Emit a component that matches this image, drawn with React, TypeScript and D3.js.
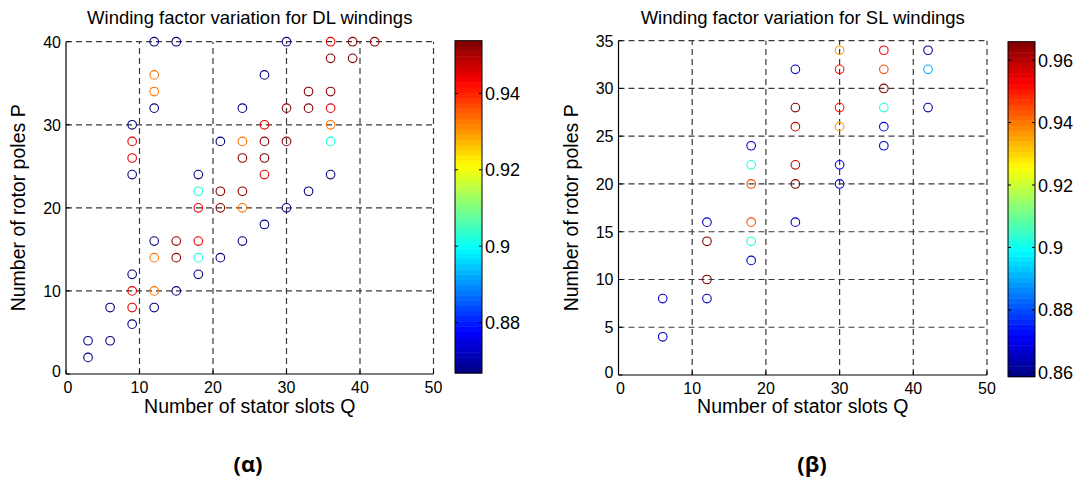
import React from "react";
import * as d3 from "d3";

// ---- DL windings (left) ----
const dlQ = [3, 3, 6, 6, 9, 9, 12, 12, 15, 18, 21, 24, 27, 30, 33, 36, 9, 9, 18, 21, 24, 12, 27, 12, 15, 30,
  9, 9, 18, 18, 9, 9, 27, 27, 36, 36,
  12, 12, 24, 24, 36, 12, 12,
  18, 18, 36,
  15, 15, 21, 21, 24, 24, 27, 27, 30, 30, 33, 33, 36, 36, 39, 39, 42];
const dlP = [2, 4, 4, 8, 6, 12, 8, 16, 10, 12, 14, 16, 18, 20, 22, 24, 24, 30, 24, 28, 32, 32, 36, 40, 40, 40,
  8, 10, 16, 20, 26, 28, 24, 30, 32, 40,
  10, 14, 20, 28, 30, 34, 36,
  14, 22, 28,
  14, 16, 20, 22, 22, 26, 26, 28, 28, 32, 32, 34, 34, 38, 38, 40, 40];
const dlKw = [0.866, 0.866, 0.866, 0.866, 0.866, 0.866, 0.866, 0.866, 0.866, 0.866, 0.866, 0.866, 0.866, 0.866, 0.866, 0.866, 0.866, 0.866, 0.866, 0.866, 0.866, 0.866, 0.866, 0.866, 0.866, 0.866,
  0.945, 0.945, 0.945, 0.945, 0.945, 0.945, 0.945, 0.945, 0.945, 0.945,
  0.933, 0.933, 0.933, 0.933, 0.933, 0.933, 0.933,
  0.902, 0.902, 0.902,
  0.952, 0.952, 0.953, 0.953, 0.952, 0.952, 0.954, 0.954, 0.952, 0.952, 0.954, 0.954, 0.953, 0.953, 0.954, 0.954, 0.953];

// ---- SL windings (right) ----
const slQ = [6, 6, 12, 12, 12, 12, 18, 18, 18, 18, 18, 18, 24, 24, 24, 24, 24, 24, 30, 30, 30, 30, 30, 30, 36, 36, 36, 36, 36, 36, 42, 42, 42];
const slP = [4, 8, 8, 10, 14, 16, 12, 14, 16, 20, 22, 24, 16, 20, 22, 26, 28, 32, 20, 22, 26, 28, 32, 34, 24, 26, 28, 30, 32, 34, 28, 32, 34];
const slKw = [0.866, 0.866, 0.866, 0.966, 0.966, 0.866, 0.866, 0.902, 0.945, 0.945, 0.902, 0.866, 0.866, 0.966, 0.958, 0.958, 0.966, 0.866, 0.866, 0.870, 0.936, 0.951, 0.951, 0.936, 0.866, 0.870, 0.902, 0.966, 0.945, 0.953, 0.861, 0.890, 0.861];

const xTicks = [0, 10, 20, 30, 40, 50];
const dlYTicks = [0, 10, 20, 30, 40];
const slYTicks = [0, 5, 10, 15, 20, 25, 30, 35];
const dlCbTicks = [0.88, 0.9, 0.92, 0.94];
const slCbTicks = [0.86, 0.88, 0.9, 0.92, 0.94, 0.96];
const dlCbDomain = [0.8668, 0.9538];
const slCbDomain = [0.8586, 0.9659];

const clamp01 = (v: number) => Math.max(0, Math.min(1, v));
function jet(t: number) {
  const tt = clamp01(t);
  const r = clamp01(1.5 - Math.abs(4 * tt - 3));
  const g = clamp01(1.5 - Math.abs(4 * tt - 2));
  const b = clamp01(1.5 - Math.abs(4 * tt - 1));
  return d3.rgb(r * 255, g * 255, b * 255).formatHex();
}

const FONT = "'Liberation Sans', Arial, sans-serif";

type PanelProps = {
  title: string;
  Q: number[]; P: number[]; K: number[];
  yMax: number; yTicks: number[];
  x0: number; x1: number; yTop: number; yBot: number;
  cbX: number; cbTop: number; cbBot: number; cbDomain: number[]; cbTicks: number[];
  ylabelX: number;
};

function Panel(p: PanelProps) {
  const x = d3.scaleLinear().domain([0, 50]).range([p.x0, p.x1]);
  const y = d3.scaleLinear().domain([0, p.yMax]).range([p.yBot, p.yTop]);
  const c = d3.scaleLinear().domain(p.cbDomain).range([0, 1]).clamp(true);
  const cy = d3.scaleLinear().domain(p.cbDomain).range([p.cbBot, p.cbTop]);
  const nBands = 64;
  const bandH = (p.cbBot - p.cbTop) / nBands;
  const cbW = 27;
  const cx = (p.x0 + p.x1) / 2;
  const grid = "#3a3a3a";
  return (
    <g fontFamily={FONT}>
      {/* grid */}
      {xTicks.filter((t) => t > 0).map((t) => (
        <line key={"gx" + t} x1={x(t)} x2={x(t)} y1={p.yBot} y2={p.yTop} stroke={grid} strokeWidth={1.2} strokeDasharray="6,4" />
      ))}
      {p.yTicks.filter((t) => t > 0).map((t) => (
        <line key={"gy" + t} x1={p.x0} x2={p.x1} y1={y(t)} y2={y(t)} stroke={grid} strokeWidth={1.2} strokeDasharray="6,4" />
      ))}
      {/* axes */}
      <line x1={p.x0} x2={p.x1} y1={p.yBot} y2={p.yBot} stroke="#000" strokeWidth={1.2} />
      <line x1={p.x0} x2={p.x0} y1={p.yBot} y2={p.yTop} stroke="#000" strokeWidth={1.2} />
      {xTicks.map((t) => (
        <g key={"tx" + t}>
          <line x1={x(t)} x2={x(t)} y1={p.yBot} y2={p.yBot - 4} stroke="#000" />
          <text x={x(t) + (t === 0 ? 2 : 0)} y={p.yBot + 19} fontSize={16} textAnchor="middle">{t}</text>
        </g>
      ))}
      {p.yTicks.map((t) => (
        <g key={"ty" + t}>
          <line x1={p.x0} x2={p.x0 + 4} y1={y(t)} y2={y(t)} stroke="#000" />
          <text x={p.x0 - 5} y={y(t) + 6 - (t === 0 ? 3 : 0)} fontSize={16} textAnchor="end">{t}</text>
        </g>
      ))}
      {/* points */}
      {p.Q.map((q, i) => (
        <circle key={"pt" + i} cx={x(q)} cy={y(p.P[i])} r={4.3} fill="none" stroke={jet(c(p.K[i]))} strokeWidth={1.1} />
      ))}
      {/* titles */}
      <text x={cx} y={24} fontSize={18.5} textAnchor="middle">{p.title}</text>
      <text x={cx} y={413} fontSize={19.5} textAnchor="middle">Number of stator slots Q</text>
      <text transform={`translate(${p.ylabelX},${(p.yTop + p.yBot) / 2}) rotate(-90)`} fontSize={19.5} textAnchor="middle">Number of rotor poles P</text>
      {/* colorbar */}
      {d3.range(nBands).map((i) => (
        <rect key={"cb" + i} x={p.cbX} y={p.cbBot - (i + 1) * bandH} width={cbW} height={bandH + 0.5} fill={jet((i + 0.5) / nBands)} />
      ))}
      <rect x={p.cbX} y={p.cbTop} width={cbW} height={p.cbBot - p.cbTop} fill="none" stroke="#000" strokeWidth={1} />
      {p.cbTicks.map((t) => (
        <g key={"cbt" + t}>
          <line x1={p.cbX} x2={p.cbX + 3} y1={cy(t)} y2={cy(t)} stroke="#000" />
          <line x1={p.cbX + cbW} x2={p.cbX + cbW - 3} y1={cy(t)} y2={cy(t)} stroke="#000" />
          <text x={p.cbX + cbW + 3} y={cy(t) + 6.5} fontSize={18}>{t}</text>
        </g>
      ))}
    </g>
  );
}

export default function App() {
  return (
    <svg width={1086} height={479} style={{ position: "absolute", left: 0, top: 0, background: "#fff" }}>
      <rect width={1086} height={479} fill="#fff" />
      <Panel title="Winding factor variation for DL windings" Q={dlQ} P={dlP} K={dlKw}
        yMax={40} yTicks={dlYTicks} x0={66} x1={433.5} yTop={41.7} yBot={374}
        cbX={455} cbTop={40.7} cbBot={373} cbDomain={dlCbDomain} cbTicks={dlCbTicks} ylabelX={25} />
      <Panel title="Winding factor variation for SL windings" Q={slQ} P={slP} K={slKw}
        yMax={35} yTicks={slYTicks} x0={618.5} x1={987} yTop={40.7} yBot={375}
        cbX={1008} cbTop={41.7} cbBot={376.7} cbDomain={slCbDomain} cbTicks={slCbTicks} ylabelX={578} />
      <text x={248} y={472} fontSize={22} fontWeight="bold" textAnchor="middle" fontFamily="'Open Sans', sans-serif">(α)</text>
      <text x={812} y={472} fontSize={22} fontWeight="bold" textAnchor="middle" fontFamily="'Open Sans', sans-serif">(β)</text>
    </svg>
  );
}
